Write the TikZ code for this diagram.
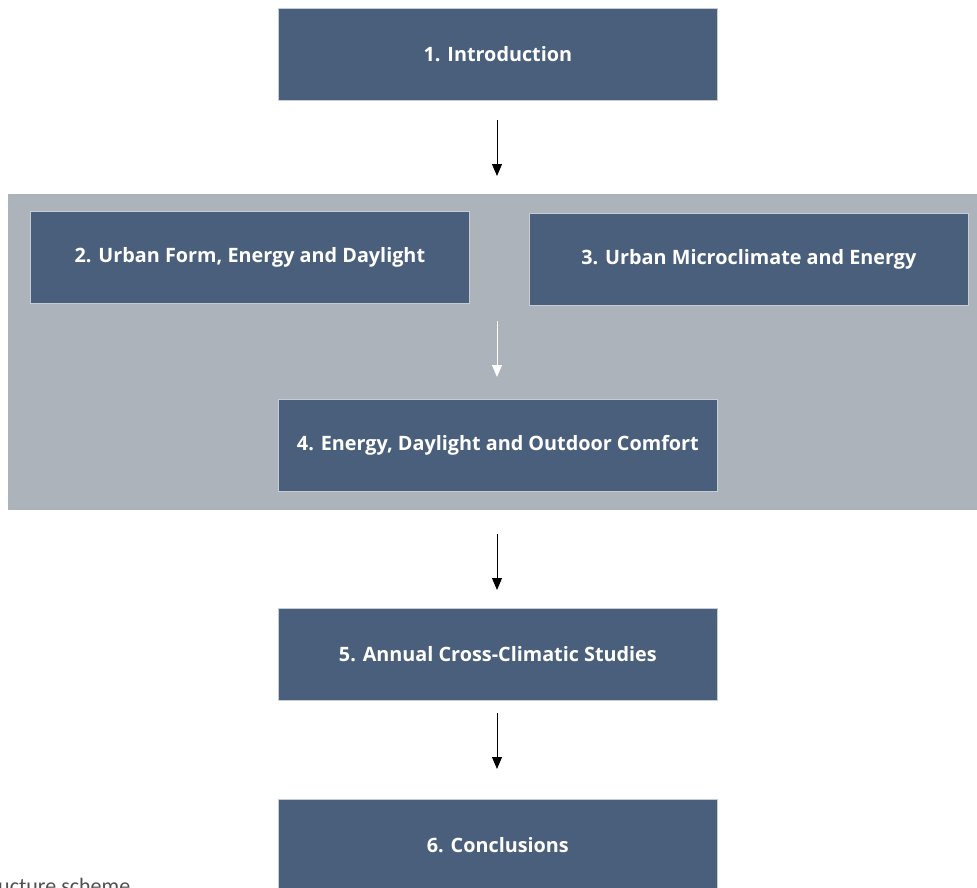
\documentclass[tikz,border=0pt]{standalone}
\usepackage{fontspec}
\setmainfont{Open Sans}
\newfontfamily\capfont{Carlito}
\usetikzlibrary{arrows.meta}
\definecolor{boxblue}{HTML}{4A5F7B}
\definecolor{panelgray}{HTML}{ADB3BA}
\definecolor{boxedge}{HTML}{C5CCD4}
\definecolor{captiongray}{HTML}{505050}
\tikzset{
  stage/.style={fill=boxblue, draw=boxedge, line width=0.8pt, minimum width=439pt, minimum height=92pt,
    inner sep=0pt, text=white, font=\fontsize{19.8}{23}\selectfont\bfseries, anchor=north west},
  flow/.style={line width=1pt, -{Triangle[width=10pt,length=12pt]}},
}
\begin{document}
\begin{tikzpicture}[x=1pt,y=-1pt]
\useasboundingbox (0,0) rectangle (977,888);
\clip (0,0) rectangle (977,888);
\fill[panelgray] (8,194) rectangle (977,510);
\node[stage] (s1) at (278,8) {1. Introduction};
\node[stage] (s2) at (30,211) {2. Urban Form, Energy and Daylight};
\node[stage] (s3) at (529,213) {3. Urban Microclimate and Energy};
\node[stage] (s4) at (278,399) {4. Energy, Daylight and Outdoor Comfort};
\node[stage] (s5) at (278,608) {5. Annual Cross-Climatic Studies};
\node[stage] (s6) at (278,799) {6. Conclusions};
\coordinate (a1s) at (497,120); \coordinate (a1e) at (497,176);
\coordinate (a2s) at (497,321); \coordinate (a2e) at (497,377);
\coordinate (a3s) at (497,534); \coordinate (a3e) at (497,590);
\coordinate (a4s) at (497,713); \coordinate (a4e) at (497,769);
\draw[flow] (a1s) -- (a1e);
\draw[flow, white] (a2s) -- (a2e);
\draw[flow] (a3s) -- (a3e);
\draw[flow] (a4s) -- (a4e);
\node[anchor=base west, inner sep=0pt, text=captiongray, font=\capfont\fontsize{22}{26}\selectfont] (cap) at (-2,893) {ucture scheme};
\end{tikzpicture}
\end{document}
